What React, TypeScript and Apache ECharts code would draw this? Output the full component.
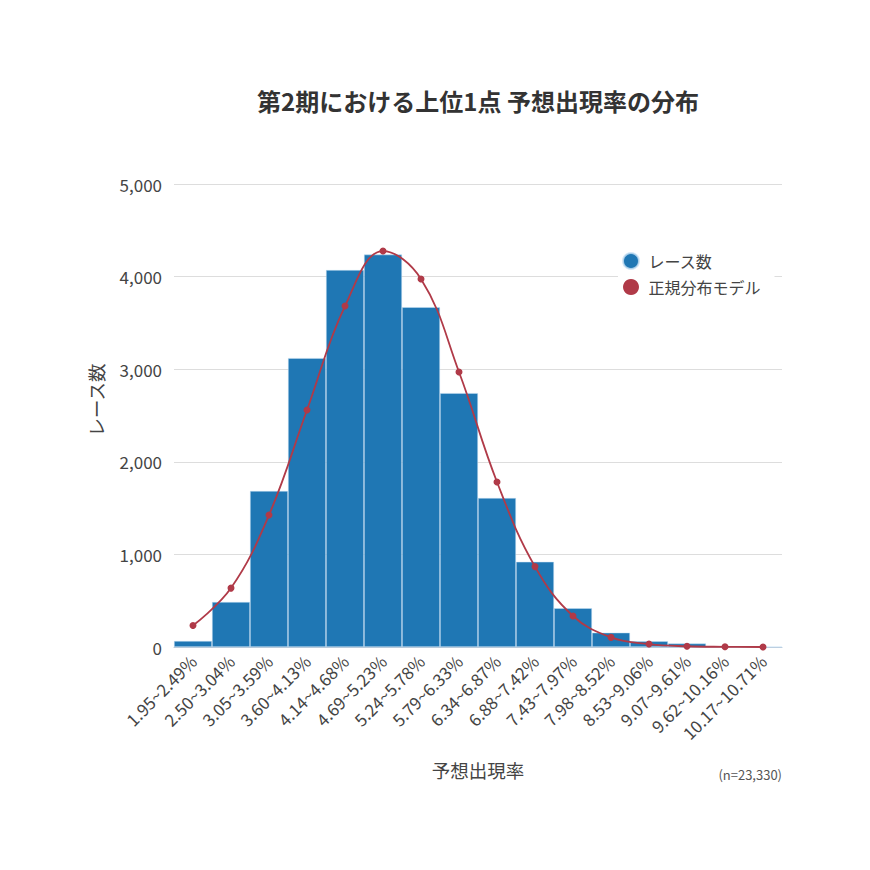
import React, { useEffect, useRef } from "react";
import * as echarts from "echarts";

const categories = [
  "1.95~2.49%", "2.50~3.04%", "3.05~3.59%", "3.60~4.13%", "4.14~4.68%",
  "4.69~5.23%", "5.24~5.78%", "5.79~6.33%", "6.34~6.87%", "6.88~7.42%",
  "7.43~7.97%", "7.98~8.52%", "8.53~9.06%", "9.07~9.61%", "9.62~10.16%",
  "10.17~10.71%",
];
const raceCounts = [65, 486, 1685, 3120, 4071, 4238, 3670, 2742, 1609, 920, 419, 155, 62, 38, 6, 2];
const normalModel = [232, 636, 1425, 2559, 3682, 4276, 3974, 2970, 1782, 868, 335, 104, 32, 8, 2, 0];
const yTicks = [0, 1000, 2000, 3000, 4000, 5000];

const FONT = "'Noto Sans CJK JP', 'Noto Sans', sans-serif";
const BLUE = "#1f77b4";
const RED = "#b03a48";

export default function App() {
  const ref = useRef<HTMLDivElement>(null);
  useEffect(() => {
    if (!ref.current) return;
    const chart = echarts.init(ref.current, null, { renderer: "svg" });
    chart.setOption({
      animation: false,
      backgroundColor: "#ffffff",
      textStyle: { fontFamily: FONT },
      grid: { left: 174, right: 88, top: 184, bottom: 223, containLabel: false },
      legend: {
        left: 618,
        top: 248,
        orient: "vertical",
        icon: "circle",
        itemWidth: 25,
        itemHeight: 16,
        itemGap: 9,
        backgroundColor: "#ffffff",
        padding: [4, 14, 4, 4],
        textStyle: { fontSize: 16, color: "#444", fontFamily: FONT },
        data: ["レース数", "正規分布モデル"],
      },
      xAxis: {
        type: "category",
        data: categories,
        boundaryGap: true,
        axisLine: { lineStyle: { color: "#b8c8d8", width: 1 } },
        axisTick: { alignWithLabel: true, length: 5, lineStyle: { color: "#bbb" } },
        axisLabel: {
          rotate: 45,
          interval: 0,
          fontSize: 17,
          color: "#444",
          margin: 11,
          fontFamily: FONT,
        },
      },
      yAxis: {
        type: "value",
        min: 0,
        max: yTicks[yTicks.length - 1],
        interval: 1000,
        axisLine: { show: false },
        axisTick: { show: false },
        splitLine: { lineStyle: { color: "#dddddd", width: 1 } },
        axisLabel: {
          fontSize: 17,
          color: "#444",
          margin: 12,
          fontFamily: FONT,
          formatter: (v: number) => v.toLocaleString("en-US"),
        },
      },
      series: [
        {
          name: "レース数",
          type: "bar",
          data: raceCounts,
          barCategoryGap: "0%",
          itemStyle: { color: BLUE, borderColor: "rgba(200,225,245,0.8)", borderWidth: 0.6 },
        },
        {
          name: "正規分布モデル",
          type: "line",
          data: normalModel,
          smooth: 0.4,
          symbol: "circle",
          symbolSize: 7,
          lineStyle: { color: RED, width: 1.8 },
          itemStyle: { color: RED },
        },
      ],
      graphic: [
        {
          type: "text",
          x: 478,
          y: 100,
          style: {
            text: "第2期における上位1点 予想出現率の分布",
            font: `bold 24px ${FONT}`,
            fill: "#333",
            align: "center",
            verticalAlign: "middle",
          },
        },
        {
          type: "text",
          x: 478,
          y: 770,
          style: {
            text: "予想出現率",
            font: `18.5px ${FONT}`,
            fill: "#444",
            align: "center",
            verticalAlign: "middle",
          },
        },
        {
          type: "text",
          x: 96,
          y: 400,
          rotation: Math.PI / 2,
          style: {
            text: "レース数",
            font: `18.5px ${FONT}`,
            fill: "#444",
            align: "center",
            verticalAlign: "middle",
          },
        },
        {
          type: "text",
          x: 782,
          y: 774,
          style: {
            text: "(n=23,330)",
            font: `13px ${FONT}`,
            fill: "#555",
            align: "right",
            verticalAlign: "middle",
          },
        },
      ],
    });
    return () => chart.dispose();
  }, []);
  return (
    <div
      ref={ref}
      style={{ position: "fixed", left: 0, top: 0, width: 870, height: 870, background: "#fff" }}
    />
  );
}
